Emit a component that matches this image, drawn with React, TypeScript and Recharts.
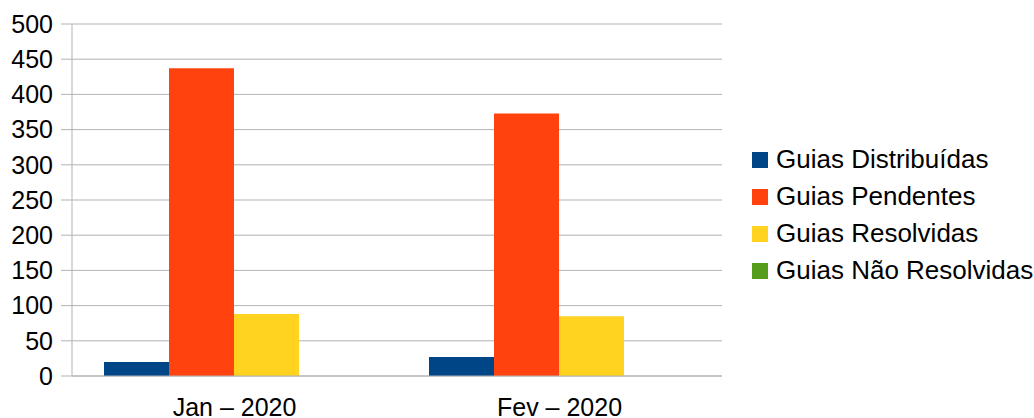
import { Bar, BarChart, CartesianGrid, XAxis, YAxis } from "recharts";

const months = ["Jan – 2020", "Fev – 2020"];
const distribuidas = [20, 27];
const pendentes = [437, 373];
const resolvidas = [88, 85];
const naoResolvidas = [0, 0];
const yTicks = [0, 50, 100, 150, 200, 250, 300, 350, 400, 450, 500];
const edgeTicks = [0, 1, 2];

const series = [
  { key: "distribuidas", name: "Guias Distribuídas", color: "#004586" },
  { key: "pendentes", name: "Guias Pendentes", color: "#ff420e" },
  { key: "resolvidas", name: "Guias Resolvidas", color: "#ffd320" },
  { key: "naoResolvidas", name: "Guias Não Resolvidas", color: "#579d1c" },
];

const data = months.map((m, i) => ({
  month: m,
  distribuidas: distribuidas[i],
  pendentes: pendentes[i],
  resolvidas: resolvidas[i],
  naoResolvidas: naoResolvidas[i],
}));

const FONT = "'Liberation Sans', Arial, sans-serif";
const GRID = "#b3b3b3";

export default function App() {
  return (
    <div
      style={{
        position: "absolute",
        left: 0,
        top: 0,
        width: 1034,
        height: 418,
        overflow: "hidden",
        background: "#fff",
        fontFamily: FONT,
      }}
    >
      <BarChart
        width={1034}
        height={418}
        data={data}
        margin={{ top: 24, right: 312, left: 0, bottom: 0 }}
        barCategoryGap={32}
        barGap={0}
      >
        <CartesianGrid vertical={false} stroke={GRID} />
        {/* boundary ticks between categories */}
        <XAxis
          xAxisId="edge"
          type="number"
          domain={[0, 2]}
          ticks={edgeTicks}
          tick={false}
          tickSize={10}
          height={0}
          axisLine={false}
          stroke={GRID}
        />
        <XAxis
          dataKey="month"
          height={42}
          tickLine={false}
          tickSize={0}
          tickMargin={22}
          axisLine={{ stroke: GRID }}
          tick={{ fill: "#000", fontSize: 25, fontFamily: FONT }}
        />
        <YAxis
          domain={[0, 500]}
          ticks={yTicks}
          width={72}
          tickSize={11}
          tickMargin={8}
          stroke={GRID}
          tick={{ fill: "#000", fontSize: 25, fontFamily: FONT }}
        />
        <YAxis
          yAxisId="right"
          orientation="right"
          domain={[0, 500]}
          width={0}
          tick={false}
          tickLine={false}
          stroke={GRID}
        />
        {series.map((s) => (
          <Bar
            key={s.key}
            dataKey={s.key}
            name={s.name}
            fill={s.color}
            isAnimationActive={false}
          />
        ))}
      </BarChart>
      <div style={{ position: "absolute", left: 752, top: 141 }}>
        {series.map((s) => (
          <div
            key={s.key}
            style={{
              display: "flex",
              alignItems: "center",
              height: 37,
              fontSize: 26,
              whiteSpace: "nowrap",
              color: "#000",
            }}
          >
            <span
              style={{
                width: 16,
                height: 16,
                background: s.color,
                marginRight: 8,
                flexShrink: 0,
              }}
            />
            {s.name}
          </div>
        ))}
      </div>
    </div>
  );
}
